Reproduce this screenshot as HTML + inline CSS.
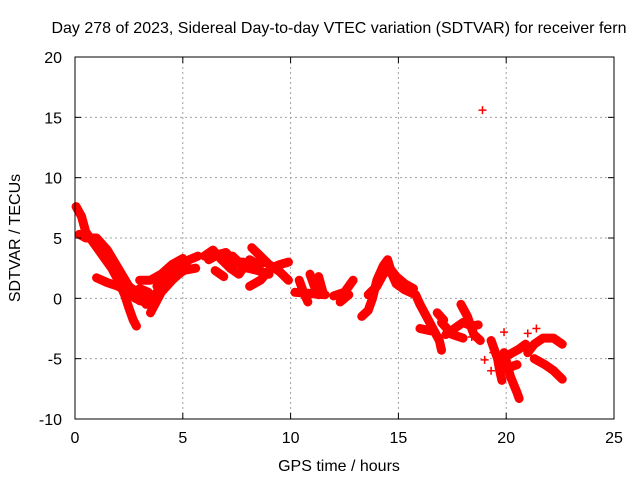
<!DOCTYPE html>
<html><head><meta charset="utf-8"><style>
body{margin:0;background:#fff}
svg{display:block;font-family:"Liberation Sans",sans-serif}
</style></head><body>
<svg id="chart" width="640" height="480" viewBox="0 0 640 480" xmlns="http://www.w3.org/2000/svg">
<rect width="640" height="480" fill="#fff"/>
<g id="grid"></g>
<g id="marks"></g>
<g id="axes"></g>
<text x="339" y="33" text-anchor="middle" font-size="16">Day 278 of 2023, Sidereal Day-to-day VTEC variation (SDTVAR) for receiver fern</text>
<text x="339" y="471" text-anchor="middle" font-size="16">GPS time / hours</text>
<text transform="translate(20,238) rotate(-90)" text-anchor="middle" font-size="16">SDTVAR / TECUs</text>
</svg>
<script>
const xTicks=[0,5,10,15,20,25];
const yTicks=[-10,-5,0,5,10,15,20];
const tracks=[
[[0.05,7.6],[0.3,6.8],[0.5,5.5],[0.9,4.5],[1.3,3.5],[1.7,2.5],[2.0,1.5],[2.3,0.3],[2.5,-0.8],[2.7,-1.8],[2.85,-2.3]],
[[0.2,5.3],[0.5,5.0],[1.0,5.0],[1.5,4.0],[2.0,2.5],[2.5,1.0],[3.0,0.3],[3.5,0.0]],
[[1.2,4.5],[1.6,3.2],[2.0,2.0],[2.4,0.8],[2.8,0.0],[3.2,-0.3]],
[[1.0,1.7],[1.5,1.3],[2.0,1.0],[2.5,0.5],[3.0,-0.2],[3.5,0.2]],
[[2.2,1.5],[2.6,0.3],[3.0,0.8],[3.4,0.5]],
[[3.3,-0.5],[3.8,0.5],[4.3,1.5],[4.8,2.5],[5.3,3.2],[5.7,3.5]],
[[3.5,-1.2],[4.0,0.5],[4.5,1.5],[5.0,2.3],[5.6,2.5]],
[[3.0,1.5],[3.5,1.5],[4.0,2.0],[4.5,2.8],[5.0,3.3]],
[[3.8,1.0],[4.3,2.0],[4.8,2.0],[5.2,2.5]],
[[6.0,3.5],[6.4,4.0],[6.8,3.2],[7.2,2.5],[7.6,2.0],[7.8,2.5]],
[[6.2,3.2],[6.6,3.6],[7.0,3.8],[7.4,3.0],[7.8,2.8]],
[[6.5,2.3],[6.9,1.8]],
[[7.3,3.5],[7.6,3.0],[7.8,3.0]],
[[8.2,4.2],[8.6,3.5],[9.0,2.8],[9.5,2.2],[9.9,1.5]],
[[8.1,1.0],[8.6,1.5],[9.1,2.5],[9.5,2.8],[9.9,3.0]],
[[8.0,2.5],[8.5,2.3],[9.0,2.0]],
[[8.1,3.2],[8.5,2.8],[8.8,3.0]],
[[10.4,1.5],[10.6,0.5],[10.8,-0.3]],
[[10.9,2.0],[11.1,1.0],[11.3,0.3]],
[[11.3,1.8],[11.5,0.5]],
[[10.2,0.5],[10.9,0.4],[11.6,0.3]],
[[12.0,0.2],[12.5,0.5],[12.9,1.5]],
[[12.3,-0.3],[12.7,0.3]],
[[13.3,-1.5],[13.6,-1.0],[13.8,0.0],[14.0,1.5],[14.3,2.7],[14.5,3.2],[14.7,2.0],[14.9,1.2],[15.3,0.7],[15.8,0.3],[16.0,-0.5]],
[[13.6,0.3],[14.0,1.0],[14.3,2.0],[14.6,2.5],[14.9,1.8],[15.3,1.2],[15.7,0.8]],
[[16.0,-0.5],[16.3,-1.5],[16.6,-2.5],[16.9,-3.5],[17.0,-4.3]],
[[16.8,-1.2],[17.1,-1.8]],
[[16.0,-2.5],[16.5,-2.7]],
[[17.2,-3.0],[17.6,-2.5],[18.0,-2.0],[18.4,-2.3],[18.7,-2.2]],
[[17.9,-0.5],[18.2,-1.5],[18.5,-3.0],[18.8,-3.5]],
[[17.0,-2.0],[17.5,-3.0],[18.0,-3.3]],
[[19.3,-3.5],[19.6,-5.0],[19.7,-6.0],[19.8,-6.8]],
[[19.9,-4.5],[20.2,-6.5],[20.5,-7.8],[20.6,-8.3]],
[[19.8,-5.0],[20.3,-4.5],[20.6,-4.2],[20.9,-3.8]],
[[20.0,-5.8],[20.5,-5.5]],
[[21.0,-4.5],[21.3,-3.8],[21.7,-3.3],[22.2,-3.3],[22.6,-3.8]],
[[21.3,-5.0],[21.8,-5.5],[22.2,-6.0],[22.6,-6.7]]
];
const singles=[[18.9,15.6],[19.3,-6.0],[21.4,-2.5],[21.0,-2.9],[18.4,-3.2],[19.4,-4.5],[19.9,-2.8],[19.0,-5.1]];
const X0=75,X1=614,Y0=419,Y1=57;
const sx=t=>X0+(t-0)/25*(X1-X0);
const sy=v=>Y0-(v+10)/30*(Y0-Y1);
const NS="http://www.w3.org/2000/svg";
function mk(tag,parent,attrs){const e=document.createElementNS(NS,tag);for(const k in attrs)e.setAttribute(k,attrs[k]);parent.appendChild(e);return e;}
const grid=document.getElementById('grid'),axes=document.getElementById('axes'),marks=document.getElementById('marks');
xTicks.forEach(t=>{
 if(t>0&&t<25){const g=mk('line',grid,{x1:sx(t),x2:sx(t),y1:Y1,y2:Y0,stroke:'#a0a0a0','stroke-dasharray':'2,3'});
 
 }
 mk('line',axes,{x1:sx(t),x2:sx(t),y1:Y0,y2:Y0-6,stroke:'#000'});
 mk('line',axes,{x1:sx(t),x2:sx(t),y1:Y1,y2:Y1+6,stroke:'#000'});
 const l=mk('text',axes,{x:sx(t),y:Y0+24,'text-anchor':'middle','font-size':16});
 l.textContent=t;
 
 
});
yTicks.forEach(v=>{
 if(v>-10&&v<20){const g=mk('line',grid,{x1:X0,x2:X1,y1:sy(v),y2:sy(v),stroke:'#a0a0a0','stroke-dasharray':'2,3'});
 
 }
 mk('line',axes,{x1:X0,x2:X0+6,y1:sy(v),y2:sy(v),stroke:'#000'});
 mk('line',axes,{x1:X1,x2:X1-6,y1:sy(v),y2:sy(v),stroke:'#000'});
 const l=mk('text',axes,{x:X0-13,y:sy(v)+6,'text-anchor':'end','font-size':16});
 l.textContent=v;
 
 
});
const frame=mk('rect',axes,{x:X0,y:Y1,width:X1-X0,height:Y0-Y1,fill:'none',stroke:'#000'});


function plus(x,y){mk('path',marks,{d:`M${x-4},${y}H${x+4}M${x},${y-4}V${y+4}`,stroke:'#f00','stroke-width':1.5});}
tracks.forEach(tr=>{
 const p=mk('polyline',marks,{points:tr.map(d=>sx(d[0])+','+sy(d[1])).join(' '),fill:'none',stroke:'#f00','stroke-width':9,'stroke-linejoin':'round','stroke-linecap':'round'});
 
 
 tr.forEach(d=>plus(sx(d[0]),sy(d[1])));
});
singles.forEach(d=>plus(sx(d[0]),sy(d[1])));
</script>
</body></html>
